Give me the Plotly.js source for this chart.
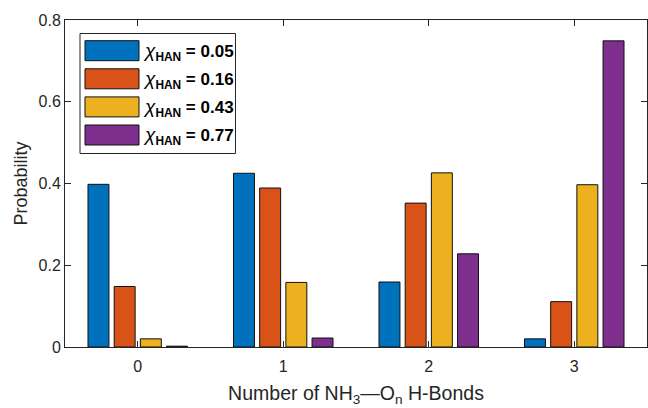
<!DOCTYPE html>
<html>
<head>
<meta charset="utf-8">
<script src="https://cdn.plot.ly/plotly-3.0.1.min.js"></script>
<style>html,body{margin:0;padding:0;background:#fff;}#chart{width:648px;height:408px;}</style>
</head>
<body>
<div id="chart"></div>
<script>
// ---- data ----
const categories = [0, 1, 2, 3];
const xTickLabels = ['0', '1', '2', '3'];
const yTickValues = [0, 0.2, 0.4, 0.6, 0.8];
const yTickLabels = ['0', '0.2', '0.4', '0.6', '0.8'];
const seriesNames = ['0.05', '0.16', '0.43', '0.77'];
const probHAN005 = [0.398, 0.425, 0.159, 0.020];
const probHAN016 = [0.148, 0.389, 0.352, 0.111];
const probHAN043 = [0.020, 0.158, 0.426, 0.397];
const probHAN077 = [0.002, 0.022, 0.228, 0.749];
const seriesColors = ['#0072BD', '#D95319', '#EDB120', '#7E2F8E'];

const seriesValues = [probHAN005, probHAN016, probHAN043, probHAN077];
const FONT = 'Liberation Sans, Arial, Helvetica, sans-serif';
const AX = '#262626';

const traces = seriesValues.map((vals, i) => ({
  type: 'bar',
  x: categories,
  y: vals,
  name: 'χ_HAN = ' + seriesNames[i],
  marker: {color: seriesColors[i], line: {color: '#111', width: 1}},
  showlegend: false,
  hoverinfo: 'x+y'
}));

// legend geometry (pixels in figure), converted to paper coords
const M = {l: 65, r: 1, t: 20, b: 61};
const W = 648 - M.l - M.r, H = 408 - M.t - M.b;
const px = x => (x - M.l) / W;
const py = y => (408 - M.b - y) / H;

const shapes = [{
  type: 'rect', xref: 'paper', yref: 'paper', layer: 'above',
  x0: px(80), x1: px(235.5), y0: py(153.5), y1: py(33.5),
  line: {color: AX, width: 1}, fillcolor: 'white'
}];
const annotations = [];
seriesNames.forEach((nm, i) => {
  const top = 40.7 + i * 28.1;
  shapes.push({
    type: 'rect', xref: 'paper', yref: 'paper', layer: 'above',
    x0: px(85), x1: px(139), y0: py(top + 20), y1: py(top),
    line: {color: '#111', width: 1}, fillcolor: seriesColors[i]
  });
  annotations.push({
    xref: 'paper', yref: 'paper', x: px(140.5), y: py(top + 11),
    xanchor: 'left', yanchor: 'middle', showarrow: false,
    text: '<span style="font-size:19px"><i>χ</i></span><b><sub>HAN</sub> = ' + nm + '</b>',
    font: {family: FONT, size: 17, color: '#000'}
  });
});

const layout = {
  width: 648, height: 408,
  margin: M,
  paper_bgcolor: '#fff', plot_bgcolor: '#fff',
  font: {family: FONT, size: 16, color: AX},
  barmode: 'group', bargap: 0.28, bargroupgap: 0.2,
  xaxis: {
    range: [-0.5, 3.5], tickvals: categories, ticktext: xTickLabels,
    ticks: 'inside', ticklen: 6, tickcolor: AX, tickwidth: 1,
    ticklabelstandoff: 5,
    showline: true, linecolor: AX, linewidth: 1, mirror: 'ticks',
    showgrid: false, zeroline: false,
    tickfont: {family: FONT, size: 16, color: AX},
    title: {text: 'Number of NH<sub>3</sub>—O<sub>n</sub> H-Bonds', font: {family: FONT, size: 19.5, color: AX}, standoff: 12}
  },
  yaxis: {
    range: [0, 0.8], tickvals: yTickValues, ticktext: yTickLabels,
    ticks: 'inside', ticklen: 6, tickcolor: AX, tickwidth: 1,
    showline: true, linecolor: AX, linewidth: 1, mirror: 'ticks',
    showgrid: false, zeroline: false,
    tickfont: {family: FONT, size: 16, color: AX},
    title: {text: 'Probability', font: {family: FONT, size: 18, color: AX}, standoff: 6}
  },
  shapes: shapes,
  annotations: annotations,
  showlegend: false
};

Plotly.newPlot('chart', traces, layout, {displayModeBar: false, staticPlot: true});
</script>
</body>
</html>
